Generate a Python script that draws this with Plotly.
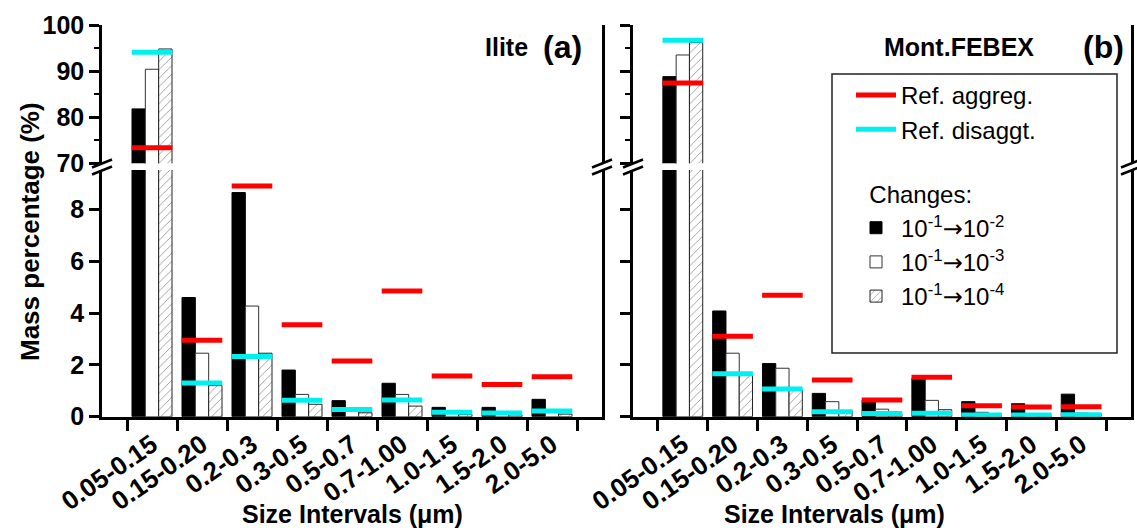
import plotly.graph_objects as go

categories = ["0.05-0.15", "0.15-0.20", "0.2-0.3", "0.3-0.5", "0.5-0.7",
              "0.7-1.00", "1.0-1.5", "1.5-2.0", "2.0-5.0"]

# Panel (a) Ilite
ilite_c2 = [81.8, 4.6, 8.65, 1.8, 0.62, 1.29, 0.36, 0.36, 0.67]
ilite_c3 = [90.4, 2.45, 4.27, 0.86, 0.25, 0.86, 0.2, 0.15, 0.2]
ilite_c4 = [94.8, 1.2, 2.45, 0.48, 0.15, 0.41, 0.08, 0.07, 0.1]
ilite_agg = [73.4, 2.95, 8.9, 3.55, 2.15, 4.85, 1.57, 1.24, 1.54]
ilite_dis = [94.1, 1.3, 2.32, 0.63, 0.28, 0.64, 0.17, 0.14, 0.22]

# Panel (b) Mont.FEBEX
febex_c2 = [88.8, 4.08, 2.05, 0.9, 0.63, 1.48, 0.58, 0.5, 0.87]
febex_c3 = [93.5, 2.45, 1.87, 0.58, 0.29, 0.63, 0.17, 0.1, 0.14]
febex_c4 = [96.2, 1.6, 1.03, 0.23, 0.1, 0.27, 0.08, 0.04, 0.12]
febex_agg = [87.4, 3.1, 4.69, 1.42, 0.64, 1.52, 0.42, 0.37, 0.38]
febex_dis = [96.7, 1.66, 1.07, 0.19, 0.12, 0.13, 0.07, 0.07, 0.08]

ARROW = "<span style='font-family:DejaVu Sans'>\u2192</span>"
change_names = ["10<sup>-1</sup>" + ARROW + "10<sup>-2</sup>",
                "10<sup>-1</sup>" + ARROW + "10<sup>-3</sup>",
                "10<sup>-1</sup>" + ARROW + "10<sup>-4</sup>"]
ref_names = ["Ref. aggreg.", "Ref. disaggt."]
group_title = "\u00a0\u00a0Changes:"

lower_range = [0, 9.52]
upper_range = [70, 100]
split_value = 50

W, H = 1137, 528
FONT = "Liberation Sans, Arial, sans-serif"

def px_x(p):
    return p / W

def px_y(p):
    return 1 - p / H

fig = go.Figure()

bar_styles = [
    dict(color="black", line=dict(color="black", width=1)),
    dict(color="white", line=dict(color="#333333", width=1)),
    dict(color="white", line=dict(color="#222222", width=1),
         pattern=dict(shape="/", fgcolor="black", bgcolor="white", size=6, solidity=0.12)),
]
ref_colors = ["#ff0000", "#00f0f0"]

def add_panel(xa, ya_up, ya_lo, series, refs, legend):
    for ya, part in ((ya_up, "up"), (ya_lo, "lo")):
        for i, vals in enumerate(series):
            show = legend and part == "lo"
            fig.add_trace(go.Bar(
                x=categories, y=vals, xaxis=xa, yaxis=ya,
                name=change_names[i], marker=bar_styles[i],
                showlegend=show, legendgroup="chg",
                legendgrouptitle=dict(text=group_title, font=dict(size=24, family=FONT)) if show else None,
            ))
        for j, vals in enumerate(refs):
            if part == "up":
                yv = [v if v >= split_value else None for v in vals]
            else:
                yv = [v if v < split_value else None for v in vals]
            fig.add_trace(go.Scatter(
                x=categories, y=yv, xaxis=xa, yaxis=ya, mode="markers",
                marker=dict(symbol="line-ew", size=29,
                            line=dict(color=ref_colors[j], width=5)),
                showlegend=False, name=ref_names[j],
            ))

# legend entries for reference lines (legend only)
for j in range(2):
    fig.add_trace(go.Scatter(
        x=[None], y=[None], xaxis="x", yaxis="y2", mode="lines",
        line=dict(color=ref_colors[j], width=5), name=ref_names[j],
        legendgroup="ref", showlegend=True,
    ))

add_panel("x", "y", "y2", [ilite_c2, ilite_c3, ilite_c4], [ilite_agg, ilite_dis], True)
add_panel("x2", "y3", "y4", [febex_c2, febex_c3, febex_c4], [febex_agg, febex_dis], False)

dom_a = [px_x(102), px_x(602)]
dom_b = [px_x(633), px_x(1131)]
dom_up = [px_y(163.3), px_y(25)]
dom_lo = [px_y(416.7), px_y(170)]

tickfont = dict(family=FONT, size=25, color="black", weight="bold")
xtickfont = dict(family=FONT, size=26, color="black", weight="bold")

def xaxis(domain, anchor, labels=True, side="bottom"):
    return dict(domain=domain, anchor=anchor, type="category",
                categoryorder="array", categoryarray=categories,
                range=[-1, 9], tickson="boundaries", side=side,
                ticks="outside" if labels else "", ticklen=12, tickwidth=2.5,
                tickcolor="black", tickangle=-35, tickfont=xtickfont,
                showticklabels=labels, showline=True, linewidth=2.5,
                linecolor="black", showgrid=False, zeroline=False,
                automargin=False, fixedrange=True)

def yaxis_up(anchor, labels):
    return dict(domain=dom_up, anchor=anchor, range=upper_range,
                tickvals=[70, 80, 90, 100], ticks="outside", ticklen=10,
                tickwidth=2.5, tickcolor="black", tickfont=tickfont,
                showticklabels=labels,
                minor=dict(tickvals=[75, 85, 95], ticks="outside", ticklen=5,
                           tickwidth=2, tickcolor="black"),
                showline=True, linewidth=2.5, linecolor="black", mirror=True,
                showgrid=False, zeroline=False, automargin=False, fixedrange=True)

def yaxis_lo(anchor, labels):
    return dict(domain=dom_lo, anchor=anchor, range=lower_range,
                tickvals=[0, 2, 4, 6, 8], ticks="outside", ticklen=10,
                tickwidth=2.5, tickcolor="black", tickfont=tickfont,
                showticklabels=labels,
                showline=True, linewidth=2.5, linecolor="black", mirror=True,
                showgrid=False, zeroline=False, automargin=False, fixedrange=True)

# legend frame (decoration)
LX0, LY0, LX1, LY1 = 832, 74, 1117, 353

fig.update_layout(
    width=W, height=H, margin=dict(l=0, r=0, t=0, b=0, pad=0, autoexpand=False),
    paper_bgcolor="white", plot_bgcolor="white",
    font=dict(family=FONT, color="black"),
    barmode="group", bargap=0.2, bargroupgap=0,
    xaxis=xaxis(dom_a, "y2"),
    xaxis2=xaxis(dom_b, "y4"),
    xaxis3=dict(xaxis(dom_a, "y", labels=False, side="top"), overlaying="x"),
    xaxis4=dict(xaxis(dom_b, "y3", labels=False, side="top"), overlaying="x2"),
    yaxis=yaxis_up("x", True),
    yaxis2=yaxis_lo("x", True),
    yaxis3=yaxis_up("x2", False),
    yaxis4=yaxis_lo("x2", False),
    legend=dict(x=px_x(851), y=px_y(LY0 - 1), xanchor="left", yanchor="top",
                bgcolor="rgba(0,0,0,0)", borderwidth=0,
                font=dict(family=FONT, size=24, color="black"),
                traceorder="grouped", tracegroupgap=30, itemwidth=40),
    showlegend=True,
)

shapes = [dict(type="rect", xref="paper", yref="paper",
               x0=px_x(LX0), y0=px_y(LY1), x1=px_x(LX1), y1=px_y(LY0),
               fillcolor="white", line=dict(color="#222222", width=1.5),
               layer="above")]
# broken-axis markers
for xp in (102, 602, 633, 1131):
    for yc in (163.5, 170.5):
        shapes.append(dict(type="line", xref="paper", yref="paper",
                           x0=px_x(xp - 10), y0=px_y(yc + 4),
                           x1=px_x(xp + 10), y1=px_y(yc - 4),
                           line=dict(color="black", width=2.5)))
fig.update_layout(shapes=shapes)

bold = dict(family=FONT, color="black", weight="bold")
annotations = [
    dict(text="Ilite", x=px_x(530), y=px_y(47), xanchor="right", yanchor="middle",
         font=dict(bold, size=25)),
    dict(text="(a)", x=px_x(562), y=px_y(47), xanchor="center", yanchor="middle",
         font=dict(bold, size=32)),
    dict(text="Mont.FEBEX", x=px_x(1036), y=px_y(47), xanchor="right", yanchor="middle",
         font=dict(bold, size=25)),
    dict(text="(b)", x=px_x(1103), y=px_y(47), xanchor="center", yanchor="middle",
         font=dict(bold, size=32)),
    dict(text="Mass percentage (%)", x=px_x(30), y=px_y(232), textangle=-90,
         xanchor="center", yanchor="middle", font=dict(bold, size=26)),
    dict(text="Size Intervals (\u03bcm)", x=px_x(352), y=px_y(514),
         xanchor="center", yanchor="middle", font=dict(bold, size=25)),
    dict(text="Size Intervals (\u03bcm)", x=px_x(834), y=px_y(514),
         xanchor="center", yanchor="middle", font=dict(bold, size=25)),
]
for a in annotations:
    a.update(xref="paper", yref="paper", showarrow=False)
fig.update_layout(annotations=annotations)

fig.write_html("out.html", config={"displayModeBar": False},
               post_script="document.body.style.margin='0px';")
